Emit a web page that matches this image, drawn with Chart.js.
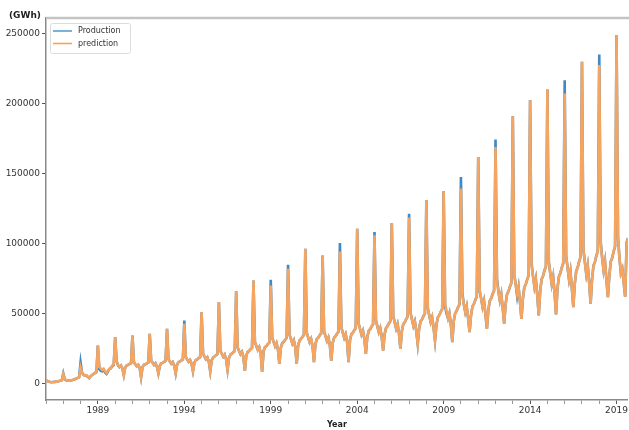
<!DOCTYPE html>
<html>
<head>
<meta charset="utf-8">
<script src="https://cdn.jsdelivr.net/npm/chart.js@4.4.1/dist/chart.umd.min.js"></script>
<style>
  html, body { margin:0; padding:0; background:#fff; }
  #wrap { position:relative; width:629px; height:430px; }
</style>
</head>
<body>
<div id="wrap"><canvas id="chart" width="629" height="430"></canvas></div>
<script>
// monthly values, thousand GWh, one row per year (Jan..Dec), starting Jan 1986
const START_YEAR = 1986;

const production = [
  2.4, 2.1, 1.7, 1.4, 1.2, 1.3, 1.4, 1.6, 1.8, 2.0, 2.3, 2.6,            // 1986
  7.5, 3.2, 2.6, 2.3, 2.4, 2.5, 2.6, 2.9, 3.3, 3.8, 4.3, 4.8,            // 1987
  15.4, 8.0, 6.5, 5.9, 6.0, 5.0, 4.1, 5.4, 6.3, 7.0, 7.8, 8.3,           // 1988
  27.4, 10.5, 9.3, 9.0, 10.2, 8.2, 7.1, 8.8, 10.7, 11.2, 12.6, 13.6,     // 1989
  33.3, 16.4, 13.2, 12.0, 13.1, 11.1, 6.4, 11.6, 13.1, 13.5, 14.2, 14.7, // 1990
  34.5, 15.5, 14.0, 12.6, 13.6, 11.5, 4.8, 12.0, 13.6, 14.0, 14.7, 15.3, // 1991
  35.7, 16.5, 15.0, 13.5, 14.6, 12.3, 7.5, 12.9, 14.6, 15.0, 15.8, 16.4, // 1992
  39.3, 17.6, 16.0, 14.4, 15.5, 13.1, 7.5, 13.8, 15.5, 16.0, 16.8, 17.4, // 1993
  45.2, 19.3, 17.5, 15.8, 17.0, 14.4, 9.0, 15.1, 17.0, 17.5, 18.4, 19.1, // 1994
  51.1, 21.5, 19.5, 17.6, 18.9, 16.0, 9.0, 16.8, 18.9, 19.5, 20.5, 21.3, // 1995
  58.3, 23.7, 21.5, 19.4, 20.9, 17.6, 10.0, 18.5, 20.9, 21.5, 22.6, 23.4, // 1996
  66.1, 25.9, 23.5, 21.2, 22.8, 19.3, 9.5, 20.2, 22.8, 23.5, 24.7, 25.6, // 1997
  73.8, 29.7, 27.0, 24.3, 26.2, 22.1, 8.5, 23.2, 26.2, 27.0, 28.4, 29.4, // 1998
  74.3, 33.0, 30.0, 27.0, 29.1, 24.6, 14.3, 25.8, 29.1, 30.0, 31.5, 32.7, // 1999
  85.0, 35.2, 32.0, 28.8, 31.0, 26.2, 14.3, 27.5, 31.0, 32.0, 33.6, 34.9, // 2000
  96.4, 36.3, 33.0, 29.7, 32.0, 27.1, 15.5, 28.4, 32.0, 33.0, 34.7, 36.0, // 2001
  91.6, 37.4, 34.0, 30.6, 33.0, 27.9, 16.6, 29.2, 33.0, 34.0, 35.7, 37.1, // 2002
  100.4, 40.2, 36.5, 32.9, 35.4, 29.9, 15.5, 31.4, 35.4, 36.5, 38.3, 39.8, // 2003
  110.7, 42.9, 39.0, 35.1, 37.8, 32.0, 21.4, 33.5, 37.8, 39.0, 41.0, 42.5, // 2004
  108.3, 45.1, 41.0, 36.9, 39.8, 33.6, 23.8, 35.3, 39.8, 41.0, 43.1, 44.7, // 2005
  114.7, 48.4, 44.0, 39.6, 42.7, 36.1, 25.0, 37.8, 42.7, 44.0, 46.2, 48.0, // 2006
  121.4, 50.6, 46.0, 41.4, 44.6, 37.7, 28.6, 39.6, 44.6, 46.0, 48.3, 50.1, // 2007
  131.0, 53.9, 49.0, 44.1, 47.5, 40.2, 30.9, 42.1, 47.5, 49.0, 51.5, 53.4, // 2008
  137.4, 55.5, 50.0, 46.8, 50.4, 42.6, 29.8, 44.7, 50.4, 52.0, 54.6, 56.7, // 2009
  147.6, 64.5, 57.0, 51.3, 55.3, 46.7, 36.9, 49.0, 55.3, 57.0, 59.9, 62.1, // 2010
  161.9, 66.0, 61.0, 54.9, 59.2, 50.0, 39.3, 52.5, 59.2, 61.0, 64.1, 66.5, // 2011
  174.3, 75.5, 66.0, 59.4, 64.0, 54.1, 42.9, 56.8, 64.0, 66.0, 69.3, 71.9, // 2012
  190.9, 78.1, 71.0, 62.5, 68.9, 58.2, 46.4, 61.1, 68.9, 71.0, 74.6, 77.4, // 2013
  202.4, 86.5, 77.0, 69.3, 74.7, 63.1, 48.8, 66.2, 74.7, 77.0, 80.9, 83.9, // 2014
  210.0, 86.9, 79.0, 71.1, 76.6, 64.8, 49.5, 67.9, 76.6, 79.0, 83.0, 86.1, // 2015
  216.6, 91.3, 83.0, 74.7, 80.5, 68.1, 54.7, 71.4, 80.5, 83.0, 87.2, 90.5, // 2016
  229.7, 95.7, 87.0, 78.3, 84.4, 73.0, 57.1, 74.8, 84.4, 87.0, 91.4, 94.8, // 2017
  235.0, 101.5, 90.0, 81.0, 87.3, 73.8, 61.9, 77.4, 87.3, 90.0, 94.5, 98.1, // 2018
  248.8, 104.5, 90.0, 79.0, 82.0, 72.0, 62.0, 101.0, 104.0, 98.0, 100.0, 103.0 // 2019
];

const prediction = [
  2.4, 2.1, 1.7, 1.4, 1.2, 1.3, 1.4, 1.6, 1.8, 2.0, 2.3, 2.6,            // 1986
  7.1, 3.4, 2.6, 2.3, 2.4, 2.5, 2.6, 2.9, 3.3, 3.8, 4.3, 4.8,            // 1987
  11.9, 8.3, 6.8, 5.9, 6.2, 5.2, 4.3, 5.4, 6.3, 7.0, 7.8, 8.3,           // 1988
  27.4, 12.1, 11.0, 9.9, 10.7, 9.0, 7.8, 9.5, 10.7, 11.0, 13.0, 14.0,    // 1989
  33.3, 16.0, 13.5, 12.2, 13.1, 11.1, 5.9, 11.6, 13.1, 13.5, 14.2, 14.7, // 1990
  34.5, 15.5, 14.0, 12.6, 13.6, 11.5, 4.8, 12.0, 13.6, 14.0, 14.7, 15.3, // 1991
  35.7, 16.5, 15.0, 13.5, 14.6, 12.3, 7.5, 12.9, 14.6, 15.0, 15.8, 16.4, // 1992
  39.3, 17.6, 16.0, 14.4, 15.5, 13.1, 7.5, 13.8, 15.5, 16.0, 16.8, 17.4, // 1993
  42.9, 19.3, 17.5, 15.8, 17.0, 14.4, 9.0, 15.1, 17.0, 17.5, 18.4, 19.1, // 1994
  51.1, 21.5, 19.5, 17.6, 18.9, 16.0, 9.0, 16.8, 18.9, 19.5, 20.5, 21.3, // 1995
  58.3, 23.7, 21.5, 19.4, 20.9, 17.6, 10.0, 18.5, 20.9, 21.5, 22.6, 23.4, // 1996
  66.1, 25.9, 23.5, 21.2, 22.8, 19.3, 9.5, 20.2, 22.8, 23.5, 24.7, 25.6, // 1997
  73.8, 29.7, 27.0, 24.3, 26.2, 22.1, 8.5, 23.2, 26.2, 27.0, 28.4, 29.4, // 1998
  70.2, 33.0, 30.0, 27.0, 29.1, 24.6, 14.3, 25.8, 29.1, 30.0, 31.5, 32.7, // 1999
  82.1, 35.2, 32.0, 28.8, 31.0, 26.2, 14.3, 27.5, 31.0, 32.0, 33.6, 34.9, // 2000
  96.4, 36.3, 33.0, 29.7, 32.0, 27.1, 15.5, 28.4, 32.0, 33.0, 34.7, 36.0, // 2001
  91.6, 37.4, 34.0, 30.6, 33.0, 27.9, 16.6, 29.2, 33.0, 34.0, 35.7, 37.1, // 2002
  94.5, 40.2, 36.5, 32.9, 35.4, 29.9, 15.5, 31.4, 35.4, 36.5, 38.3, 39.8, // 2003
  110.7, 42.9, 39.0, 35.1, 37.8, 32.0, 21.4, 33.5, 37.8, 39.0, 41.0, 42.5, // 2004
  106.0, 45.1, 41.0, 36.9, 39.8, 33.6, 23.8, 35.3, 39.8, 41.0, 43.1, 44.7, // 2005
  114.7, 48.4, 44.0, 39.6, 42.7, 36.1, 25.0, 37.8, 42.7, 44.0, 46.2, 48.0, // 2006
  118.6, 50.6, 46.0, 41.4, 44.6, 37.7, 28.6, 39.6, 44.6, 46.0, 48.3, 50.1, // 2007
  131.0, 53.9, 49.0, 44.1, 47.5, 40.2, 30.9, 42.1, 47.5, 49.0, 51.5, 53.4, // 2008
  137.4, 57.2, 52.0, 46.8, 50.4, 42.6, 29.8, 44.7, 50.4, 52.0, 54.6, 56.7, // 2009
  139.3, 62.7, 57.0, 51.3, 55.3, 46.7, 36.9, 49.0, 55.3, 57.0, 59.9, 62.1, // 2010
  161.9, 67.1, 61.0, 54.9, 59.2, 50.0, 39.3, 52.5, 59.2, 61.0, 64.1, 66.5, // 2011
  169.0, 72.6, 66.0, 59.4, 64.0, 54.1, 42.9, 56.8, 64.0, 66.0, 69.3, 71.9, // 2012
  190.9, 78.1, 71.0, 63.9, 68.9, 58.2, 46.4, 61.1, 68.9, 71.0, 74.6, 77.4, // 2013
  202.4, 84.7, 77.0, 69.3, 74.7, 63.1, 48.8, 66.2, 74.7, 77.0, 80.9, 83.9, // 2014
  210.0, 86.9, 79.0, 71.1, 76.6, 64.8, 49.5, 67.9, 76.6, 79.0, 83.0, 86.1, // 2015
  207.1, 91.3, 83.0, 74.7, 80.5, 68.1, 54.7, 71.4, 80.5, 83.0, 87.2, 90.5, // 2016
  229.7, 95.7, 87.0, 78.3, 84.4, 71.3, 57.1, 74.8, 84.4, 87.0, 91.4, 94.8, // 2017
  227.4, 99.0, 90.0, 81.0, 87.3, 73.8, 61.9, 77.4, 87.3, 90.0, 94.5, 98.1, // 2018
  248.8, 104.5, 90.0, 79.0, 82.0, 72.0, 62.0, 100.0, 104.0, 98.0, 100.0, 103.0 // 2019
];

const yearTicks  = [1986,1987,1988,1989,1990,1991,1992,1993,1994,1995,1996,1997,1998,1999,2000,2001,2002,
                    2003,2004,2005,2006,2007,2008,2009,2010,2011,2012,2013,2014,2015,2016,2017,2018,2019];
const yearLabels = [1989, 1994, 1999, 2004, 2009, 2014, 2019];
const yTicks     = [0, 50000, 100000, 150000, 200000, 250000];

const X_MIN = 1986, X_MAX = 2019.66;
const Y_MIN = -11500, Y_MAX = 261000;

Chart.defaults.font.family = "'DejaVu Sans', sans-serif";

// month index -> decimal year
const toPoints = arr => arr.map((v, i) => ({ x: START_YEAR + i / 12, y: v * 1000 }));

// ── extras drawn over the chart: top spine, unit label, legend ─────
const decor = {
  id: 'decor',
  afterDraw(chart) {
    const { ctx, chartArea: a } = chart;
    ctx.save();
    ctx.strokeStyle = '#c4c4c4';
    ctx.lineWidth = 2.5;
    ctx.beginPath();
    ctx.moveTo(a.left, a.top);
    ctx.lineTo(chart.width, a.top);
    ctx.stroke();

    ctx.fillStyle = '#222';
    ctx.font = "bold 9px 'DejaVu Sans'";
    ctx.textBaseline = 'middle';
    ctx.textAlign = 'left';
    ctx.fillText('(GWh)', 9, 16);

    // legend box
    ctx.fillStyle = 'rgba(255,255,255,0.85)';
    ctx.strokeStyle = '#dcdcdc';
    ctx.lineWidth = 1;
    ctx.beginPath();
    ctx.roundRect(50.5, 23.5, 80, 30, 2);
    ctx.fill();
    ctx.stroke();

    ctx.font = "8px 'DejaVu Sans'";
    chart.data.datasets.forEach((ds, i) => {
      const y = 31 + i * 12.5;
      ctx.strokeStyle = ds.legendColor;
      ctx.lineWidth = 1.6;
      ctx.beginPath();
      ctx.moveTo(53, y);
      ctx.lineTo(72, y);
      ctx.stroke();
      ctx.fillStyle = '#333';
      ctx.fillText(ds.label, 78, y);
    });
    ctx.restore();
  }
};

new Chart(document.getElementById('chart'), {
  type: 'line',
  data: {
    datasets: [
      { label: 'Production', data: toPoints(production), legendColor: '#5a9fd0', order: 2,
        borderColor: '#3f8ac4', borderWidth: 2.6, pointRadius: 0, tension: 0 },
      { label: 'prediction', data: toPoints(prediction), legendColor: '#ffa050', order: 1,
        borderColor: '#f6a561', borderWidth: 2.6, pointRadius: 0, tension: 0 }
    ]
  },
  options: {
    responsive: false,
    animation: false,
    layout: { padding: { top: 18, left: 0, right: 0, bottom: 0 } },
    plugins: { legend: { display: false }, tooltip: { enabled: false } },
    scales: {
      x: {
        type: 'linear', min: X_MIN, max: X_MAX,
        afterBuildTicks: s => { s.ticks = yearTicks.map(v => ({ value: v })); },
        afterFit: s => { s.height = 30; },
        ticks: {
          autoSkip: false, maxRotation: 0, padding: 1, color: '#333', font: { size: 9 },
          callback: v => yearLabels.includes(v) ? String(v) : ''
        },
        grid: {
          drawOnChartArea: false, tickLength: 4,
          tickColor: c => (c.tick && yearLabels.includes(c.tick.value)) ? '#555' : '#999'
        },
        border: { color: '#8a8a8a', width: 1.5 },
        title: { display: true, text: 'Year', color: '#222', font: { size: 8, weight: 'bold' },
                 padding: { top: 0, bottom: 0 } }
      },
      y: {
        min: Y_MIN, max: Y_MAX,
        afterBuildTicks: s => { s.ticks = yTicks.map(v => ({ value: v })); },
        afterFit: s => { s.width = 46; },
        ticks: { padding: 2, color: '#333', font: { size: 9 }, callback: v => String(v) },
        grid: { drawOnChartArea: false, tickLength: 4, tickColor: '#555' },
        border: { color: '#8a8a8a', width: 1.5 }
      }
    }
  },
  plugins: [decor]
});
</script>
</body>
</html>
